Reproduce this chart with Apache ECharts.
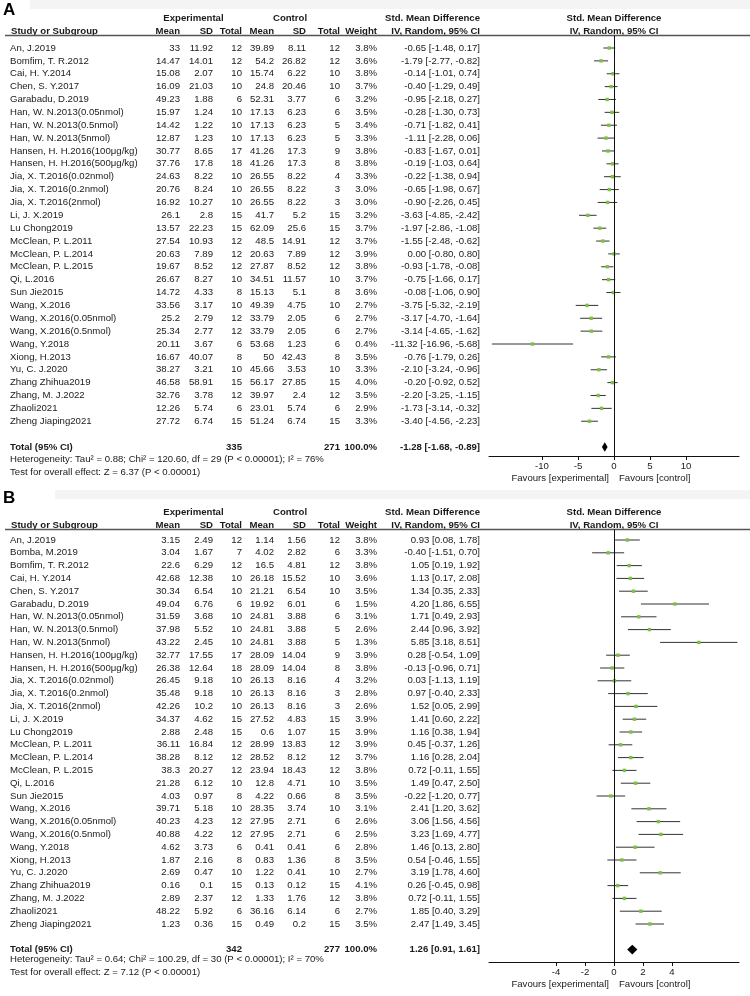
<!DOCTYPE html>
<html><head><meta charset="utf-8">
<script src="https://cdn.jsdelivr.net/npm/echarts@6/dist/echarts.min.js"></script>
<style>html,body{margin:0;padding:0;background:#fff}#c{width:750px;height:996px}</style>
</head><body><div id="c"></div><script>
// ---------- Panel A data ----------
const a_study = ["An, J.2019","Bomfim, T. R.2012","Cai, H. Y.2014","Chen, S. Y.2017","Garabadu, D.2019","Han, W. N.2013(0.05nmol)","Han, W. N.2013(0.5nmol)","Han, W. N.2013(5nmol)","Hansen, H. H.2016(100μg/kg)","Hansen, H. H.2016(500μg/kg)","Jia, X. T.2016(0.02nmol)","Jia, X. T.2016(0.2nmol)","Jia, X. T.2016(2nmol)","Li, J. X.2019","Lu Chong2019","McClean, P. L.2011","McClean, P. L.2014","McClean, P. L.2015","Qi, L.2016","Sun Jie2015","Wang, X.2016","Wang, X.2016(0.05nmol)","Wang, X.2016(0.5nmol)","Wang, Y.2018","Xiong, H.2013","Yu, C. J.2020","Zhang Zhihua2019","Zhang, M. J.2022","Zhaoli2021","Zheng Jiaping2021"];
const a_expMean = [33,14.47,15.08,16.09,49.23,15.97,14.42,12.87,30.77,37.76,24.63,20.76,16.92,26.1,13.57,27.54,20.63,19.67,26.67,14.72,33.56,25.2,25.34,20.11,16.67,38.27,46.58,32.76,12.26,27.72];
const a_expSD = [11.92,14.01,2.07,21.03,1.88,1.24,1.22,1.23,8.65,17.8,8.22,8.24,10.27,2.8,22.23,10.93,7.89,8.52,8.27,4.33,3.17,2.79,2.77,3.67,40.07,3.21,58.91,3.78,5.74,6.74];
const a_expN = [12,12,10,10,6,10,10,10,17,18,10,10,10,15,15,12,12,12,10,8,10,12,12,6,8,10,15,12,6,15];
const a_ctlMean = [39.89,54.2,15.74,24.8,52.31,17.13,17.13,17.13,41.26,41.26,26.55,26.55,26.55,41.7,62.09,48.5,20.63,27.87,34.51,15.13,49.39,33.79,33.79,53.68,50,45.66,56.17,39.97,23.01,51.24];
const a_ctlSD = [8.11,26.82,6.22,20.46,3.77,6.23,6.23,6.23,17.3,17.3,8.22,8.22,8.22,5.2,25.6,14.91,7.89,8.52,11.57,5.1,4.75,2.05,2.05,1.23,42.43,3.53,27.85,2.4,5.74,6.74];
const a_ctlN = [12,12,10,10,6,6,5,5,9,8,4,3,3,15,15,12,12,12,10,8,10,6,6,6,8,10,15,12,6,15];
const a_weight = [3.8,3.6,3.8,3.7,3.2,3.5,3.4,3.3,3.8,3.8,3.3,3.0,3.0,3.2,3.7,3.7,3.9,3.8,3.7,3.6,2.7,2.7,2.7,0.4,3.5,3.3,4.0,3.5,2.9,3.3];
const a_smd = [-0.65,-1.79,-0.14,-0.40,-0.95,-0.28,-0.71,-1.11,-0.83,-0.19,-0.22,-0.65,-0.90,-3.63,-1.97,-1.55,0.00,-0.93,-0.75,-0.08,-3.75,-3.17,-3.14,-11.32,-0.76,-2.10,-0.20,-2.20,-1.73,-3.40];
const a_lo = [-1.48,-2.77,-1.01,-1.29,-2.18,-1.30,-1.82,-2.28,-1.67,-1.03,-1.38,-1.98,-2.26,-4.85,-2.86,-2.48,-0.80,-1.78,-1.66,-1.06,-5.32,-4.70,-4.65,-16.96,-1.79,-3.24,-0.92,-3.25,-3.14,-4.56];
const a_hi = [0.17,-0.82,0.74,0.49,0.27,0.73,0.41,0.06,0.01,0.64,0.94,0.67,0.45,-2.42,-1.08,-0.62,0.80,-0.08,0.17,0.90,-2.19,-1.64,-1.62,-5.68,0.26,-0.96,0.52,-1.15,-0.32,-2.23];
const a_total = {expN:335, ctlN:271, weight:"100.0%", smd:-1.28, lo:-1.68, hi:-0.89};
const a_het = "Heterogeneity: Tau² = 0.88; Chi² = 120.60, df = 29 (P < 0.00001); I² = 76%";
const a_test = "Test for overall effect: Z = 6.37 (P < 0.00001)";
const a_ticks = [-10,-5,0,5,10];

// ---------- Panel B data ----------
const b_study = ["An, J.2019","Bomba, M.2019","Bomfim, T. R.2012","Cai, H. Y.2014","Chen, S. Y.2017","Garabadu, D.2019","Han, W. N.2013(0.05nmol)","Han, W. N.2013(0.5nmol)","Han, W. N.2013(5nmol)","Hansen, H. H.2016(100μg/kg)","Hansen, H. H.2016(500μg/kg)","Jia, X. T.2016(0.02nmol)","Jia, X. T.2016(0.2nmol)","Jia, X. T.2016(2nmol)","Li, J. X.2019","Lu Chong2019","McClean, P. L.2011","McClean, P. L.2014","McClean, P. L.2015","Qi, L.2016","Sun Jie2015","Wang, X.2016","Wang, X.2016(0.05nmol)","Wang, X.2016(0.5nmol)","Wang, Y.2018","Xiong, H.2013","Yu, C. J.2020","Zhang Zhihua2019","Zhang, M. J.2022","Zhaoli2021","Zheng Jiaping2021"];
const b_expMean = [3.15,3.04,22.6,42.68,30.34,49.04,31.59,37.98,43.22,32.77,26.38,26.45,35.48,42.26,34.37,2.88,36.11,38.28,38.3,21.28,4.03,39.71,40.23,40.88,4.62,1.87,2.69,0.16,2.89,48.22,1.23];
const b_expSD = [2.49,1.67,6.29,12.38,6.54,6.76,3.68,5.52,2.45,17.55,12.64,9.18,9.18,10.2,4.62,2.48,16.84,8.12,20.27,6.12,0.97,5.18,4.23,4.22,3.73,2.16,0.47,0.1,2.37,5.92,0.36];
const b_expN = [12,7,12,10,10,6,10,10,10,17,18,10,10,10,15,15,12,12,12,10,8,10,12,12,6,8,10,15,12,6,15];
const b_ctlMean = [1.14,4.02,16.5,26.18,21.21,19.92,24.81,24.81,24.81,28.09,28.09,26.13,26.13,26.13,27.52,0.6,28.99,28.52,23.94,12.8,4.22,28.35,27.95,27.95,0.41,0.83,1.22,0.13,1.33,36.16,0.49];
const b_ctlSD = [1.56,2.82,4.81,15.52,6.54,6.01,3.88,3.88,3.88,14.04,14.04,8.16,8.16,8.16,4.83,1.07,13.83,8.12,18.43,4.71,0.66,3.74,2.71,2.71,0.41,1.36,0.41,0.12,1.76,6.14,0.2];
const b_ctlN = [12,6,12,10,10,6,6,5,5,9,8,4,3,3,15,15,12,12,12,10,8,10,6,6,6,8,10,15,12,6,15];
const b_weight = [3.8,3.3,3.8,3.6,3.5,1.5,3.1,2.6,1.3,3.9,3.8,3.2,2.8,2.6,3.9,3.9,3.9,3.7,3.8,3.5,3.5,3.1,2.6,2.5,2.8,3.5,2.7,4.1,3.8,2.7,3.5];
const b_smd = [0.93,-0.40,1.05,1.13,1.34,4.20,1.71,2.44,5.85,0.28,-0.13,0.03,0.97,1.52,1.41,1.16,0.45,1.16,0.72,1.49,-0.22,2.41,3.06,3.23,1.46,0.54,3.19,0.26,0.72,1.85,2.47];
const b_lo = [0.08,-1.51,0.19,0.17,0.35,1.86,0.49,0.96,3.18,-0.54,-0.96,-1.13,-0.40,0.05,0.60,0.38,-0.37,0.28,-0.11,0.47,-1.20,1.20,1.56,1.69,0.13,-0.46,1.78,-0.45,-0.11,0.40,1.49];
const b_hi = [1.78,0.70,1.92,2.08,2.33,6.55,2.93,3.92,8.51,1.09,0.71,1.19,2.33,2.99,2.22,1.94,1.26,2.04,1.55,2.50,0.77,3.62,4.56,4.77,2.80,1.55,4.60,0.98,1.55,3.29,3.45];
const b_total = {expN:342, ctlN:277, weight:"100.0%", smd:1.26, lo:0.91, hi:1.61};
const b_het = "Heterogeneity: Tau² = 0.64; Chi² = 100.29, df = 30 (P < 0.00001); I² = 70%";
const b_test = "Test for overall effect: Z = 7.12 (P < 0.00001)";
const b_ticks = [-4,-2,0,2,4];

const headerGroups = ["Experimental","Control"];
const headerCols = ["Mean","SD","Total","Mean","SD","Total","Weight"];
const smdTitle = ["Std. Mean Difference","IV, Random, 95% CI"];
const favours = ["Favours [experimental]","Favours [control]"];

// ---------- layout ----------
const FONT = '"Liberation Sans", Arial, Helvetica, sans-serif';
const FS = 9.6;
const COLX = {name:10, hdrName:11, expMean:180, expSD:213, expN:242, ctlMean:274, ctlSD:306, ctlN:340, weight:377, smd:480, exp:193.5, ctl:290, plot:614, favL:609, favR:619};

const panels = [
  {letter:'A', d:{study:a_study, expMean:a_expMean, expSD:a_expSD, expN:a_expN, ctlMean:a_ctlMean, ctlSD:a_ctlSD, ctlN:a_ctlN, weight:a_weight, smd:a_smd, lo:a_lo, hi:a_hi, total:a_total, het:a_het, test:a_test, ticks:a_ticks},
   top:0, bottom:490, y0:48, step:12.87, hdr1:18, hdr2:31.5, line:35.5, axis:456, fav:478, totalRow:31, hetPx:459.5, testPx:472, xr:17.36, letterY:2},
  {letter:'B', d:{study:b_study, expMean:b_expMean, expSD:b_expSD, expN:b_expN, ctlMean:b_ctlMean, ctlSD:b_ctlSD, ctlN:b_ctlN, weight:b_weight, smd:b_smd, lo:b_lo, hi:b_hi, total:b_total, het:b_het, test:b_test, ticks:b_ticks},
   top:495, bottom:996, y0:540, step:12.8, hdr1:512, hdr2:525, line:529.5, axis:962, fav:984, totalRow:32, hetPx:959.5, testPx:972, xr:8.62, letterY:490}
];

const grid=[], xAxis=[], yAxis=[], series=[], graphic=[];

panels.forEach((P, pi) => {
  const d = P.d;
  const rowOf = px => (px - P.y0) / P.step;
  const items = [];
  const T = (x,row,text,align,bold)=>items.push({kind:'text',x,row,text:String(text),align,bold});
  // headers
  T(COLX.exp, rowOf(P.hdr1), headerGroups[0], 'center', true);
  T(COLX.ctl, rowOf(P.hdr1), headerGroups[1], 'center', true);
  T(COLX.smd, rowOf(P.hdr1), smdTitle[0], 'right', true);
  T(COLX.plot, rowOf(P.hdr1), smdTitle[0], 'center', true);
  const h2 = rowOf(P.hdr2);
  T(COLX.hdrName, h2, 'Study or Subgroup', 'left', true);
  const hk = ['expMean','expSD','expN','ctlMean','ctlSD','ctlN','weight'];
  hk.forEach((k,j)=>T(COLX[k], h2, headerCols[j], 'right', true));
  T(COLX.smd, h2, smdTitle[1], 'right', true);
  T(COLX.plot, h2, smdTitle[1], 'center', true);
  items.push({kind:'hline', x:5, x2:750, row:rowOf(P.line)});
  // rows
  d.study.forEach((s,i)=>{
    T(COLX.name, i, s, 'left', false);
    T(COLX.expMean, i, d.expMean[i], 'right', false);
    T(COLX.expSD, i, d.expSD[i], 'right', false);
    T(COLX.expN, i, d.expN[i], 'right', false);
    T(COLX.ctlMean, i, d.ctlMean[i], 'right', false);
    T(COLX.ctlSD, i, d.ctlSD[i], 'right', false);
    T(COLX.ctlN, i, d.ctlN[i], 'right', false);
    T(COLX.weight, i, d.weight[i].toFixed(1)+'%', 'right', false);
    T(COLX.smd, i, d.smd[i].toFixed(2)+' ['+d.lo[i].toFixed(2)+', '+d.hi[i].toFixed(2)+']', 'right', false);
  });
  const tr = P.totalRow, t = d.total;
  T(COLX.name, tr, 'Total (95% CI)', 'left', true);
  T(COLX.expN, tr, t.expN, 'right', true);
  T(COLX.ctlN, tr, t.ctlN, 'right', true);
  T(COLX.weight, tr, t.weight, 'right', true);
  T(COLX.smd, tr, t.smd.toFixed(2)+' ['+t.lo.toFixed(2)+', '+t.hi.toFixed(2)+']', 'right', true);
  T(COLX.name, rowOf(P.hetPx), d.het, 'left', false);
  T(COLX.name, rowOf(P.testPx), d.test, 'left', false);
  T(COLX.favL, rowOf(P.fav), favours[0], 'right', false);
  T(COLX.favR, rowOf(P.fav), favours[1], 'left', false);

  const gT = pi*2, gP = pi*2+1;
  grid.push({left:0, top:P.top, width:750, height:P.bottom-P.top});
  grid.push({left:489, top:P.line, width:250, height:P.axis-P.line});
  xAxis.push({gridIndex:gT, type:'value', min:0, max:750, show:false});
  xAxis.push({gridIndex:gP, type:'value', min:-P.xr, max:P.xr,
    axisLine:{show:true, onZero:false, lineStyle:{color:'#111', width:1}},
    axisTick:{show:true, length:4, customValues:d.ticks, lineStyle:{color:'#111'}},
    axisLabel:{show:true, customValues:d.ticks, margin:5, color:'#222', fontSize:FS, fontFamily:FONT},
    splitLine:{show:false}});
  yAxis.push({gridIndex:gT, type:'value', inverse:true, min:rowOf(P.top), max:rowOf(P.bottom), show:false});
  yAxis.push({gridIndex:gP, type:'value', inverse:true, min:rowOf(P.line), max:rowOf(P.axis), show:false});

  series.push({
    type:'custom', xAxisIndex:gT, yAxisIndex:gT, silent:true, animation:false,
    data: items.map(it=>[it.x, it.row]),
    renderItem(params, api){
      const it = items[params.dataIndex];
      const p = api.coord([it.x, it.row]);
      if (it.kind==='hline'){
        const p2 = api.coord([it.x2, it.row]);
        return {type:'line', shape:{x1:p[0],y1:p[1],x2:p2[0],y2:p2[1]}, style:{stroke:'#555', lineWidth:1.3}};
      }
      return {type:'text', x:p[0], y:p[1], style:{text:it.text, textAlign:it.align, textVerticalAlign:'middle',
        font:(it.bold?'bold ':'')+FS+'px '+FONT, fill:'#1a1a1a'}};
    }
  });

  series.push({
    type:'custom', xAxisIndex:gP, yAxisIndex:gP, silent:true, animation:false,
    encode:{x:[0,2,3], y:1},
    data: d.smd.map((v,i)=>[v, i, d.lo[i], d.hi[i]]),
    renderItem(params, api){
      const row = api.value(1);
      const a = api.coord([api.value(2), row]);
      const b = api.coord([api.value(3), row]);
      const c = api.coord([api.value(0), row]);
      const s = 3.4;
      return {type:'group', children:[
        {type:'line', shape:{x1:a[0],y1:a[1],x2:b[0],y2:b[1]}, style:{stroke:'#333', lineWidth:1}},
        {type:'rect', shape:{x:c[0]-s/2, y:c[1]-s/2, width:s, height:s}, style:{fill:'#7cc242'}}
      ]};
    },
    markLine:{silent:true, symbol:'none', animation:false, label:{show:false},
      lineStyle:{color:'#111', width:1, type:'solid'}, data:[{xAxis:0}]}
  });

  series.push({
    type:'custom', xAxisIndex:gP, yAxisIndex:gP, silent:true, animation:false,
    encode:{x:[0,2,3], y:1},
    data:[[t.smd, tr, t.lo, t.hi]],
    renderItem(params, api){
      const row = api.value(1);
      const a = api.coord([api.value(2), row]);
      const b = api.coord([api.value(3), row]);
      const c = api.coord([api.value(0), row]);
      const h = 4.8;
      return {type:'polygon', shape:{points:[[a[0],c[1]],[c[0],c[1]-h],[b[0],c[1]],[c[0],c[1]+h]]}, style:{fill:'#000'}};
    }
  });

  graphic.push({type:'rect', left:pi===0?30:55, top:P.letterY-(pi===0?2:0), shape:{width:720, height:9}, style:{fill:'#f4f4f4'}, z:-10});
  graphic.push({type:'text', left:3, top:P.letterY, style:{text:P.letter, font:'bold 17px '+FONT, fill:'#000'}});
});

const chart = echarts.init(document.getElementById('c'), null, {renderer:'canvas'});
chart.setOption({animation:false, backgroundColor:'#fff', grid, xAxis, yAxis, series, graphic});
</script></body></html>
